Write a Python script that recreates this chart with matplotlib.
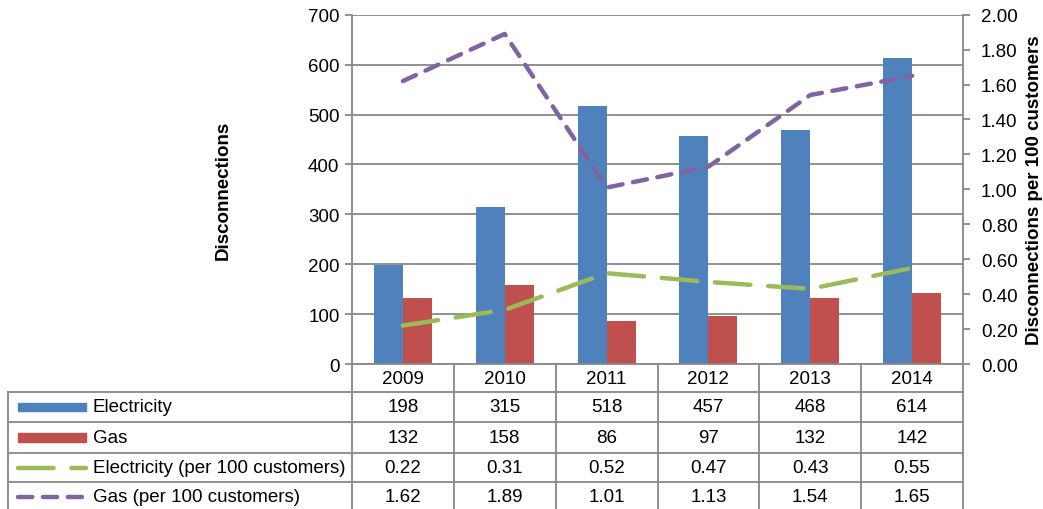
import numpy as np
import matplotlib
matplotlib.use('Agg')
import matplotlib.pyplot as plt
from matplotlib.lines import Line2D
from matplotlib.patches import Rectangle
from matplotlib.ticker import MultipleLocator, FormatStrFormatter

plt.rcParams['font.family'] = ['Liberation Sans', 'DejaVu Sans']

years = ['2009', '2010', '2011', '2012', '2013', '2014']
elec = [198, 315, 518, 457, 468, 614]
gas = [132, 158, 86, 97, 132, 142]
elec_rate = [0.22, 0.31, 0.52, 0.47, 0.43, 0.55]
gas_rate = [1.62, 1.89, 1.01, 1.13, 1.54, 1.65]
names = ['Electricity', 'Gas', 'Electricity (per 100 customers)', 'Gas (per 100 customers)']

c_blue = '#4F81BD'
c_red = '#C0504D'
c_green = '#9BBB59'
c_purple = '#8064A2'
c_grid = '#888888'

W, H = 1043, 510
fig = plt.figure(figsize=(W / 100, H / 100), dpi=100)
# axes box in pixels: x 352..963, y 15.7..365
ax = fig.add_axes([352 / W, 1 - 365 / H, (963 - 352) / W, (365 - 15.7) / H])
ax2 = ax.twinx()

x = np.arange(len(years))
bw = 0.285
ax.bar(x - bw / 2, elec, bw, color=c_blue, zorder=3)
ax.bar(x + bw / 2, gas, bw, color=c_red, zorder=3)

ax2.plot(x, elec_rate, color=c_green, lw=3.2, dashes=(8, 4), dash_capstyle='round', zorder=4)
ax2.plot(x, gas_rate, color=c_purple, lw=3.2, dashes=(3.2, 2.4), dash_capstyle='round', zorder=4)

ax.set_xlim(-0.5, len(years) - 0.5)
ax.set_ylim(0, 700)
ax2.set_ylim(0, 2.0)
ax.yaxis.set_major_locator(MultipleLocator(100))
ax2.yaxis.set_major_locator(MultipleLocator(0.2))
ax2.yaxis.set_major_formatter(FormatStrFormatter('%.2f'))
ax.set_xticks([])

ax.grid(axis='y', color=c_grid, lw=1.3, zorder=0)
ax.set_axisbelow(True)

fs = 13.5
for a in (ax, ax2):
    for s in a.spines.values():
        s.set_visible(False)
    a.tick_params(axis='y', labelsize=fs, colors=c_grid, labelcolor='black',
                  length=5, width=1.3, direction='out', pad=4)
ax.spines['left'].set_visible(True)
ax.spines['left'].set_color(c_grid)
ax.spines['left'].set_linewidth(1.3)
ax2.spines['right'].set_visible(True)
ax2.spines['right'].set_color(c_grid)
ax2.spines['right'].set_linewidth(1.3)
ax2.tick_params(axis='y', pad=8)

ax.set_ylabel('Disconnections', fontsize=fs, fontweight='bold', labelpad=55)
ax2.set_ylabel('Disconnections per 100 customers', fontsize=fs, fontweight='bold', labelpad=6)

# data table below the plot
tr = ax.transAxes
axh = 365 - 15.7
def ay(py):
    return -(py - 365) / axh
def axx(px):
    return (px - 352) / (963 - 352)

rows_px = [365, 393, 423, 454, 483, 513]
lkw = dict(transform=tr, color=c_grid, lw=1.3, clip_on=False)
# horizontal lines
fig.add_artist(Line2D([0, 1], [ay(365), ay(365)], **lkw))
for py in rows_px[1:]:
    fig.add_artist(Line2D([axx(8), 1], [ay(py), ay(py)], **lkw))
# vertical lines
n = len(years)
for k in range(n + 1):
    fig.add_artist(Line2D([k / n, k / n], [ay(365), ay(513)], **lkw))
fig.add_artist(Line2D([axx(8), axx(8)], [ay(393), ay(513)], **lkw))

for k, yr in enumerate(years):
    cx = (k + 0.5) / n
    ax.text(cx, ay((365 + 393) / 2), yr, transform=tr, ha='center', va='center', fontsize=fs)
    vals = [str(elec[k]), str(gas[k]), '%.2f' % elec_rate[k], '%.2f' % gas_rate[k]]
    for r, v in enumerate(vals):
        cy = ay((rows_px[r + 1] + rows_px[r + 2]) / 2)
        ax.text(cx, cy, v, transform=tr, ha='center', va='center', fontsize=fs)

# legend keys inside table
for r, nm in enumerate(names):
    cy = ay((rows_px[r + 1] + rows_px[r + 2]) / 2)
    ax.text(axx(93), cy, nm, transform=tr, ha='left', va='center', fontsize=fs)
key_h = 8.5 / axh
ax.add_patch(Rectangle((axx(18), ay((393 + 423) / 2) - key_h / 2), axx(86) - axx(18), key_h,
                       transform=tr, color=c_blue, clip_on=False))
ax.add_patch(Rectangle((axx(18), ay((423 + 454) / 2) - key_h / 2), axx(86) - axx(18), key_h,
                       transform=tr, color=c_red, clip_on=False))
cy = ay((454 + 483) / 2)
ax.add_line(Line2D([axx(18), axx(86)], [cy, cy], transform=tr, color=c_green, lw=3.2,
                   dashes=(8, 4), dash_capstyle='round', clip_on=False))
cy = ay((483 + 513) / 2)
ax.add_line(Line2D([axx(18), axx(86)], [cy, cy], transform=tr, color=c_purple, lw=3.2,
                   dashes=(3.2, 2.4), dash_capstyle='round', clip_on=False))

fig.savefig('out.png', dpi=100)
